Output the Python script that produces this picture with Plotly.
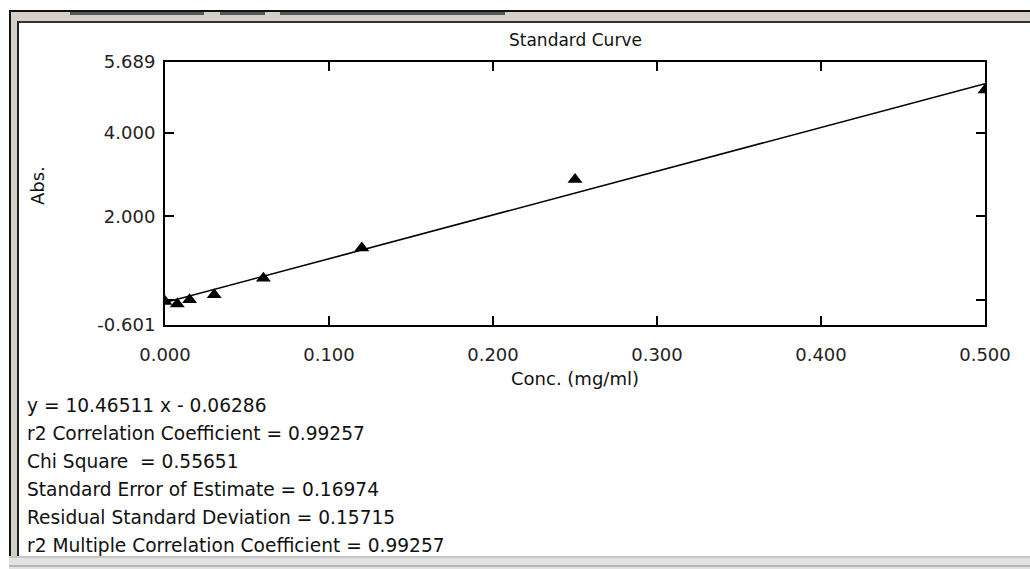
import numpy as np
import plotly.graph_objects as go

# ---- data ----
conc = [0.0, 0.0075, 0.015, 0.03, 0.06, 0.12, 0.25, 0.5]
absorb = [-0.04, -0.10, 0.00, 0.12, 0.52, 1.24, 2.88, 5.02]
slope = 10.46511
intercept = -0.06286
fit_x = [0.0, 0.5]
y_tickvals = [-0.601, 0, 2, 4, 5.689]
y_ticktext = ["-0.601", "", "2.000", "4.000", "5.689"]
x_tickvals = [0.0, 0.1, 0.2, 0.3, 0.4, 0.5]
x_ticktext = ["0.000", "0.100", "0.200", "0.300", "0.400", "0.500"]
stats_lines = [
    "y = 10.46511 x - 0.06286",
    "r2 Correlation Coefficient = 0.99257",
    "Chi Square  = 0.55651",
    "Standard Error of Estimate = 0.16974",
    "Residual Standard Deviation = 0.15715",
    "r2 Multiple Correlation Coefficient = 0.99257",
]
title_text = "Standard Curve"
x_title = "Conc. (mg/ml)"
y_title = "Abs."

# ---- geometry (pixels) ----
W, H = 1030, 569
PL, PR, PT, PB = 165, 985, 62, 325


def fx(px):
    return (px - PL) / (PR - PL)


def fy(py):
    return (PB - py) / (PB - PT)


FONT = "DejaVu Sans"

fig = go.Figure()
fit_y = [slope * x + intercept for x in fit_x]
fig.add_trace(go.Scatter(x=fit_x, y=fit_y, mode="lines",
                         line=dict(color="black", width=1.6), showlegend=False))
fig.add_trace(go.Scatter(x=conc, y=absorb, mode="markers",
                         marker=dict(symbol="triangle-up", size=13, color="black"),
                         showlegend=False))

axis_common = dict(showgrid=False, zeroline=False, showline=True, linecolor="black",
                   linewidth=2, mirror="ticks", ticks="inside", ticklen=9,
                   tickwidth=1.5, tickcolor="black",
                   tickfont=dict(family=FONT, size=18, color="#222"))

fig.update_xaxes(range=[0, 0.5], tickvals=x_tickvals, ticktext=x_ticktext,
                 ticklabelstandoff=12, **axis_common)
fig.update_yaxes(range=[-0.601, 5.689], tickvals=y_tickvals, ticktext=y_ticktext,
                 ticklabelstandoff=4, **axis_common)

ann = []
ann.append(dict(text=title_text, x=fx(575), y=fy(40), xref="paper", yref="paper",
                showarrow=False, font=dict(family=FONT, size=17, color="#111"),
                xanchor="center", yanchor="middle"))
ann.append(dict(text=x_title, x=fx(575), y=fy(378), xref="paper", yref="paper",
                showarrow=False, font=dict(family=FONT, size=18, color="#111"),
                xanchor="center", yanchor="middle"))
ann.append(dict(text=y_title, x=fx(37), y=fy(186), xref="paper", yref="paper",
                showarrow=False, textangle=-90,
                font=dict(family=FONT, size=18, color="#111"),
                xanchor="center", yanchor="middle"))
for i, line in enumerate(stats_lines):
    ann.append(dict(text=line, x=fx(25), y=fy(405 + 28 * i), xref="paper", yref="paper",
                    showarrow=False, font=dict(family=FONT, size=18.6, color="#111"),
                    xanchor="left", yanchor="middle"))

shapes = []


def rect(x0, y0, x1, y1, color):
    shapes.append(dict(type="rect", xref="paper", yref="paper", layer="above",
                       x0=fx(x0), x1=fx(x1), y0=fy(y1), y1=fy(y0),
                       fillcolor=color, line=dict(width=0)))


# window chrome
rect(9, 10, W, 12, "#111111")          # top black line
rect(10, 12, W, 21, "#d4d0c8")         # top grey band
rect(70, 12, 204, 15, "#555555")       # tab remnants
rect(220, 12, 265, 15, "#555555")
rect(280, 12, 505, 15, "#555555")
rect(17, 21, W, 23, "#333333")         # inner top dark line
rect(9, 10, 11, 556, "#111111")        # left outer black line
rect(11, 12, 17, 556, "#d4d0c8")       # left grey band
rect(17, 21, 19, 556, "#222222")       # left inner black line
rect(9, 556, W, 569, "#e2e2e2")        # bottom grey band
rect(9, 556, W, 558, "#c8c8c8")
rect(9, 565, W, 567, "#b5b5b5")

fig.update_layout(width=W, height=H, margin=dict(l=PL, r=W - PR, t=PT, b=H - PB),
                  plot_bgcolor="white", paper_bgcolor="white",
                  annotations=ann, shapes=shapes, showlegend=False)

fig.write_html("out.html")
